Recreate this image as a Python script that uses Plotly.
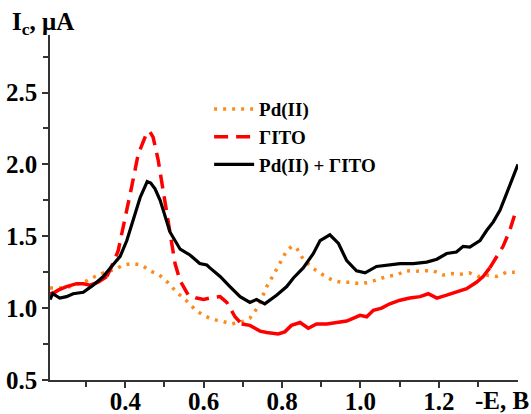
import plotly.graph_objects as go

# ---- data ----
x_mix = [0.208, 0.215, 0.233, 0.25, 0.267, 0.293, 0.318, 0.344, 0.365, 0.387, 0.404, 0.42, 0.438, 0.456,
         0.465, 0.476, 0.489, 0.497, 0.514, 0.54, 0.565, 0.59, 0.608, 0.616, 0.642, 0.667, 0.693, 0.718,
         0.735, 0.756, 0.786, 0.812, 0.829, 0.854, 0.88, 0.897, 0.922, 0.944, 0.965, 0.99, 1.012, 1.041,
         1.075, 1.101, 1.135, 1.169, 1.195, 1.22, 1.245, 1.262, 1.279, 1.305, 1.322, 1.339, 1.356, 1.369,
         1.386, 1.402]
y_mix = [1.06, 1.10, 1.07, 1.08, 1.10, 1.11, 1.16, 1.22, 1.29, 1.36, 1.47, 1.61, 1.77, 1.88,
         1.87, 1.83, 1.75, 1.68, 1.53, 1.41, 1.37, 1.31, 1.30, 1.28, 1.22, 1.15, 1.08, 1.04,
         1.06, 1.03, 1.09, 1.15, 1.21, 1.28, 1.38, 1.47, 1.51, 1.45, 1.33, 1.26, 1.245, 1.29,
         1.30, 1.31, 1.31, 1.32, 1.34, 1.38, 1.39, 1.43, 1.425, 1.47, 1.54, 1.60, 1.68, 1.77,
         1.89, 2.00]

x_gito = [0.208, 0.22, 0.229, 0.25, 0.276, 0.293, 0.31, 0.331, 0.353, 0.36, 0.372, 0.382, 0.395, 0.416,
          0.433, 0.455, 0.462, 0.471, 0.484, 0.501, 0.518, 0.527, 0.54, 0.561, 0.582, 0.60, 0.616, 0.642,
          0.659, 0.68, 0.697, 0.718, 0.744, 0.761, 0.79, 0.807, 0.824, 0.846, 0.867, 0.888, 0.914, 0.939,
          0.965, 0.999, 1.016, 1.033, 1.054, 1.075, 1.101, 1.126, 1.152, 1.173, 1.195, 1.22, 1.245, 1.271,
          1.296, 1.313, 1.33, 1.347, 1.364, 1.381, 1.397]
y_gito = [1.10, 1.11, 1.125, 1.15, 1.17, 1.17, 1.16, 1.18, 1.22, 1.26, 1.33, 1.40, 1.58, 1.84,
          2.07, 2.22, 2.23, 2.19, 2.03, 1.75, 1.47, 1.31, 1.19, 1.09, 1.07, 1.06, 1.07, 1.08,
          1.04, 0.94, 0.89, 0.88, 0.84, 0.83, 0.82, 0.835, 0.88, 0.90, 0.86, 0.89, 0.89, 0.90,
          0.91, 0.95, 0.94, 0.985, 1.00, 1.03, 1.055, 1.07, 1.08, 1.10, 1.07, 1.09, 1.11, 1.135,
          1.18, 1.22, 1.28, 1.35, 1.43, 1.54, 1.68]

x_pd = [0.208, 0.233, 0.26, 0.28, 0.302, 0.323, 0.344, 0.374, 0.395, 0.416, 0.442, 0.463, 0.487, 0.51,
        0.531, 0.557, 0.578, 0.599, 0.625, 0.646, 0.671, 0.693, 0.718, 0.739, 0.761, 0.782, 0.795, 0.812,
        0.825, 0.837, 0.854, 0.88, 0.905, 0.931, 0.952, 0.973, 0.999, 1.024, 1.045, 1.067, 1.092, 1.116,
        1.139, 1.16, 1.186, 1.211, 1.233, 1.254, 1.278, 1.301, 1.322, 1.347, 1.373, 1.394]
y_pd = [1.14, 1.14, 1.15, 1.17, 1.19, 1.22, 1.245, 1.27, 1.30, 1.31, 1.30, 1.26, 1.23, 1.175,
        1.11, 1.05, 0.99, 0.95, 0.92, 0.91, 0.89, 0.90, 0.93, 1.01, 1.15, 1.25, 1.32, 1.40,
        1.43, 1.42, 1.34, 1.275, 1.23, 1.19, 1.18, 1.18, 1.17, 1.18, 1.20, 1.22, 1.23, 1.26,
        1.255, 1.26, 1.26, 1.23, 1.24, 1.235, 1.245, 1.22, 1.23, 1.22, 1.25, 1.25]

x_ticks = [0.4, 0.6, 0.8, 1.0, 1.2]
x_tick_text = ["0.4", "0.6", "0.8", "1.0", "1.2"]
x_minor = [0.3, 0.5, 0.7, 0.9, 1.1, 1.3]
y_ticks = [0.5, 1.0, 1.5, 2.0, 2.5]
y_tick_text = ["0.5", "1.0", "1.5", "2.0", "2.5"]
y_minor = [0.75, 1.25, 1.75, 2.25, 2.75]

names = ["Pd(II)", "ГІТО", "Pd(II) + ГІТО"]

FONT = "Liberation Serif"
ORANGE = "#FF8A1C"
RED = "#FF0000"
AX = "#333333"


def b(s):
    return "<b>" + s + "</b>"


fig = go.Figure()

# Pd(II) dotted
fig.add_trace(go.Scatter(x=x_pd, y=y_pd, mode="lines", name=b(names[0]),
                         line=dict(color=ORANGE, width=3.5, dash="3px,6px")))

# ГІТО: dashed where steep, solid-looking where noisy (as in the original rendering)
i1 = x_gito.index(0.353)
i2 = x_gito.index(0.697)
i3 = x_gito.index(1.33)
fig.add_trace(go.Scatter(x=x_gito[:i1 + 1], y=y_gito[:i1 + 1], mode="lines", showlegend=False,
                         line=dict(color=RED, width=3.5)))
fig.add_trace(go.Scatter(x=x_gito[i1:i2 + 1], y=y_gito[i1:i2 + 1], mode="lines", name=b(names[1]),
                         line=dict(color=RED, width=3.5, dash="14px,8px")))
fig.add_trace(go.Scatter(x=x_gito[i2:i3 + 1], y=y_gito[i2:i3 + 1], mode="lines", showlegend=False,
                         line=dict(color=RED, width=3.5)))
fig.add_trace(go.Scatter(x=x_gito[i3:], y=y_gito[i3:], mode="lines", showlegend=False,
                         line=dict(color=RED, width=3.5, dash="14px,8px")))

# Pd(II) + ГІТО solid
fig.add_trace(go.Scatter(x=x_mix, y=y_mix, mode="lines", name=b(names[2]),
                         line=dict(color="black", width=3.2)))

fig.update_layout(
    width=531, height=414,
    margin=dict(l=50, r=13, t=35, b=34, autoexpand=False),
    paper_bgcolor="white", plot_bgcolor="white",
    font=dict(family=FONT, size=25, color="black"),
    showlegend=True,
    legend=dict(x=0.34, y=0.84, xanchor="left", yanchor="top",
                bgcolor="rgba(0,0,0,0)", font=dict(size=19, family=FONT, color="black"),
                tracegroupgap=0, itemwidth=40),
    xaxis=dict(range=[0.208, 1.402], showgrid=False, zeroline=False, automargin=False,
               showline=True, linecolor=AX, linewidth=1.5,
               tickmode="array", tickvals=x_ticks, ticktext=[b(t) for t in x_tick_text],
               ticks="outside", ticklen=6, tickwidth=1.5, tickcolor=AX,
               ticklabelstandoff=-8,
               minor=dict(tickmode="array", tickvals=x_minor, ticks="outside", ticklen=5,
                          tickwidth=1.5, tickcolor=AX),
               tickfont=dict(family=FONT, size=25, color="black")),
    yaxis=dict(range=[0.5, 2.9], showgrid=False, zeroline=False, automargin=False,
               showline=True, linecolor=AX, linewidth=1.5,
               tickmode="array", tickvals=y_ticks, ticktext=[b(t) for t in y_tick_text],
               ticks="outside", ticklen=6, tickwidth=1.5, tickcolor=AX,
               minor=dict(tickmode="array", tickvals=y_minor, ticks="outside", ticklen=5,
                          tickwidth=1.5, tickcolor=AX),
               tickfont=dict(family=FONT, size=25, color="black")),
    annotations=[
        dict(text="<b>I<sub>c</sub>, μA</b>", xref="paper", yref="paper", x=-0.085, y=1.0,
             xanchor="left", yanchor="bottom", showarrow=False, yshift=-6,
             font=dict(family=FONT, size=25, color="black")),
        dict(text="<b>-E, B</b>", xref="paper", yref="paper", x=1.027, y=0,
             xanchor="right", yanchor="top", showarrow=False, yshift=-5,
             font=dict(family=FONT, size=25, color="black")),
    ],
)

fig.write_html("out.html")
